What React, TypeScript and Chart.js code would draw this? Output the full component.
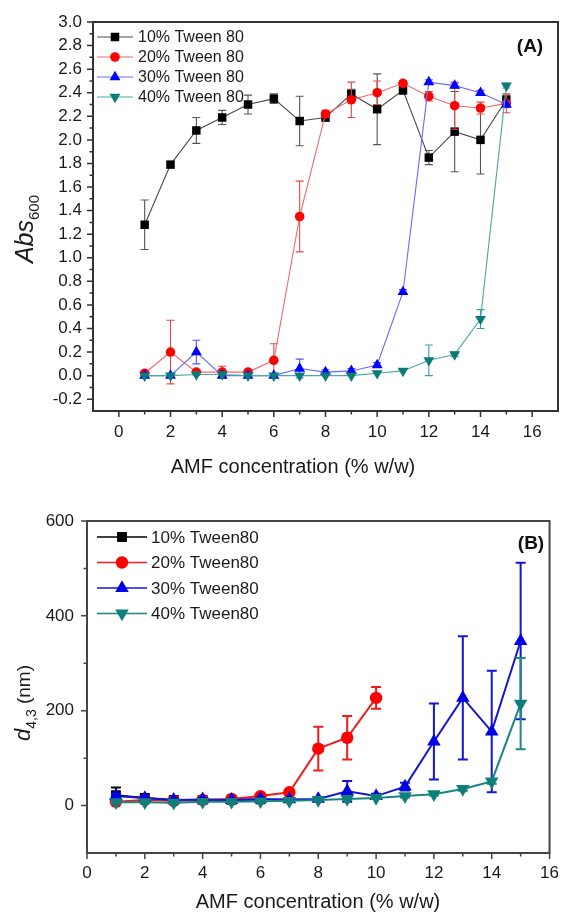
import React, { useEffect, useRef } from 'react';
import { Chart, registerables } from 'chart.js';

Chart.register(...registerables);

const FONT = '"Liberation Sans", Arial, Helvetica, sans-serif';

// ---------------- Panel A data (Abs600) ----------------
const A_X = [1, 2, 3, 4, 5, 6, 7, 8, 9, 10, 11, 12, 13, 14, 15];
const A_LABELS = ['10% Tween 80', '20% Tween 80', '30% Tween 80', '40% Tween 80'];
const A_Y10 = [1.28, 1.79, 2.08, 2.19, 2.30, 2.35, 2.16, 2.19, 2.39, 2.26, 2.42, 1.85, 2.07, 2.00, 2.34];
const A_E10 = [0.21, 0.02, 0.11, 0.06, 0.08, 0.04, 0.21, 0.03, 0.04, 0.30, 0.03, 0.06, 0.34, 0.29, 0.04];
const A_Y20 = [0.02, 0.20, 0.03, 0.03, 0.03, 0.13, 1.35, 2.22, 2.34, 2.40, 2.48, 2.37, 2.29, 2.27, 2.31];
const A_E20 = [0.02, 0.27, 0.02, 0.05, 0.02, 0.14, 0.30, 0.03, 0.15, 0.10, 0.02, 0.04, 0.20, 0.05, 0.08];
const A_Y30 = [0.00, 0.00, 0.20, 0.00, 0.00, 0.00, 0.06, 0.03, 0.04, 0.09, 0.71, 2.49, 2.46, 2.40, 2.30];
const A_E30 = [0.00, 0.00, 0.10, 0.00, 0.00, 0.00, 0.08, 0.02, 0.02, 0.02, 0.02, 0.02, 0.02, 0.02, 0.02];
const A_Y40 = [0.00, 0.00, 0.01, 0.01, 0.00, 0.00, 0.00, 0.00, 0.00, 0.02, 0.04, 0.13, 0.18, 0.48, 2.46];
const A_E40 = [0.00, 0.00, 0.00, 0.00, 0.00, 0.00, 0.00, 0.00, 0.00, 0.00, 0.00, 0.13, 0.02, 0.08, 0.02];
const A_X_MAJOR = [0, 2, 4, 6, 8, 10, 12, 14, 16];
const A_X_MINOR = [1, 3, 5, 7, 9, 11, 13, 15];
const A_Y_MAJOR = [-0.2, 0, 0.2, 0.4, 0.6, 0.8, 1.0, 1.2, 1.4, 1.6, 1.8, 2.0, 2.2, 2.4, 2.6, 2.8, 3.0];
const A_Y_MINOR = [-0.1, 0.1, 0.3, 0.5, 0.7, 0.9, 1.1, 1.3, 1.5, 1.7, 1.9, 2.1, 2.3, 2.5, 2.7, 2.9];

// ---------------- Panel B data (d4,3) ----------------
const B_LABELS = ['10% Tween80', '20% Tween80', '30% Tween80', '40% Tween80'];
const B_X10 = [1, 2, 3, 4, 5, 6];
const B_Y10 = [22, 16, 12, 12, 12, 13];
const B_E10 = [16, 4, 3, 3, 2, 2];
const B_X20 = [1, 2, 3, 4, 5, 6, 7, 8, 9, 10];
const B_Y20 = [8, 12, 10, 12, 14, 20, 28, 120, 143, 227];
const B_E20 = [3, 3, 2, 2, 2, 3, 4, 46, 46, 23];
const B_X30 = [1, 2, 3, 4, 5, 6, 7, 8, 9, 10, 11, 12, 13, 14, 15];
const B_Y30 = [20, 16, 12, 13, 12, 14, 13, 14, 30, 20, 40, 135, 227, 156, 347];
const B_E30 = [5, 3, 3, 3, 2, 3, 3, 3, 22, 5, 8, 80, 130, 128, 165];
const B_X40 = [1, 2, 3, 4, 5, 6, 7, 8, 9, 10, 11, 12, 13, 14, 15];
const B_Y40 = [7, 7, 6, 8, 8, 9, 10, 12, 14, 16, 20, 24, 35, 51, 215];
const B_E40 = [2, 2, 2, 2, 2, 2, 2, 2, 2, 2, 3, 3, 4, 5, 96];
const B_X_MAJOR = [0, 2, 4, 6, 8, 10, 12, 14, 16];
const B_X_MINOR = [1, 3, 5, 7, 9, 11, 13, 15];
const B_Y_MAJOR = [0, 200, 400, 600];
const B_Y_MINOR = [100, 300, 500];

type Series = {
  label: string; x: number[]; y: number[]; e: number[];
  marker: string; line: string; err: string;
  style: string; rot: number; r: number;
};

type Spec = {
  width: number; height: number;
  plot: { left: number; top: number; right: number; bottom: number };
  xMin: number; xMax: number; yMin: number; yMax: number;
  xMajor: number[]; xMinor: number[]; yMajor: number[]; yMinor: number[];
  yFmt: (v: number) => string;
  series: Series[];
  lineWidth: number; errWidth: number; cap: number;
  tickFont: number; xPad: number; yPad: number;
  frameColor: string; frameWidth: number;
  xTitle: { text: string; x: number; y: number; size: number };
  yTitle: { parts: { text: string; font: string; dy: number }[]; x: number; y: number };
  tag: { text: string; x: number; y: number; size: number };
  legend: { y0: number; dy: number; l0: number; l1: number; m: number; t: number; size: number; lw: number; markerScale: number };
};

function mk(label: string, x: number[], y: number[], e: number[], marker: string, line: string, err: string, style: string, rot: number, r: number): Series {
  return { label, x, y, e, marker, line, err, style, rot, r };
}

const SPEC_A: Spec = {
  width: 569, height: 485,
  plot: { left: 93, top: 22, right: 558, bottom: 411 },
  xMin: -1, xMax: 17, yMin: -0.3, yMax: 3.0,
  xMajor: A_X_MAJOR, xMinor: A_X_MINOR, yMajor: A_Y_MAJOR, yMinor: A_Y_MINOR,
  yFmt: (v) => v.toFixed(1),
  series: [
    mk(A_LABELS[0], A_X, A_Y10, A_E10, '#000000', '#4a4a4a', '#555555', 'rect', 0, 6),
    mk(A_LABELS[1], A_X, A_Y20, A_E20, '#ff0000', '#f06a6a', '#e84848', 'circle', 0, 4.8),
    mk(A_LABELS[2], A_X, A_Y30, A_E30, '#0000ff', '#6a6aff', '#5555ff', 'triangle', 0, 6.3),
    mk(A_LABELS[3], A_X, A_Y40, A_E40, '#0b7b78', '#4aa8a6', '#3f9e9b', 'triangle', 180, 6.3),
  ],
  lineWidth: 1.1, errWidth: 1.1, cap: 4,
  tickFont: 17, xPad: 11, yPad: 11,
  frameColor: '#333333', frameWidth: 2,
  xTitle: { text: 'AMF concentration (% w/w)', x: 293, y: 467, size: 20 },
  yTitle: {
    parts: [
      { text: 'Abs', font: `italic 25px ${FONT}`, dy: 0 },
      { text: '600', font: `15px ${FONT}`, dy: 6 },
    ],
    x: 33, y: 229,
  },
  tag: { text: '(A)', x: 530, y: 47, size: 19 },
  legend: { y0: 37, dy: 20, l0: 97, l1: 133, m: 115, t: 138, size: 16, lw: 1.1, markerScale: 1 },
};

const SPEC_B: Spec = {
  width: 569, height: 429,
  plot: { left: 87, top: 36, right: 558, bottom: 368 },
  xMin: 0, xMax: 16, yMin: -100, yMax: 600,
  xMajor: B_X_MAJOR, xMinor: B_X_MINOR, yMajor: B_Y_MAJOR, yMinor: B_Y_MINOR,
  yFmt: (v) => String(Math.round(v)),
  series: [
    mk(B_LABELS[0], B_X10, B_Y10, B_E10, '#000000', '#000000', '#000000', 'rect', 0, 7),
    mk(B_LABELS[1], B_X20, B_Y20, B_E20, '#ff0000', '#ee1c1c', '#ee1c1c', 'circle', 0, 6.2),
    mk(B_LABELS[2], B_X30, B_Y30, B_E30, '#0000e6', '#1414d6', '#1414d6', 'triangle', 0, 7.8),
    mk(B_LABELS[3], B_X40, B_Y40, B_E40, '#0f7f7a', '#178580', '#1f8a85', 'triangle', 180, 7.8),
  ],
  lineWidth: 2, errWidth: 2, cap: 5,
  tickFont: 17, xPad: 10, yPad: 13,
  frameColor: '#444444', frameWidth: 2,
  xTitle: { text: 'AMF concentration (% w/w)', x: 318, y: 417, size: 20 },
  yTitle: {
    parts: [
      { text: 'd', font: `italic 22px ${FONT}`, dy: 0 },
      { text: '4,3', font: `14px ${FONT}`, dy: 6 },
      { text: ' (nm)', font: `19px ${FONT}`, dy: 0 },
    ],
    x: 30, y: 218,
  },
  tag: { text: '(B)', x: 531, y: 59, size: 19 },
  legend: { y0: 52, dy: 25.5, l0: 97, l1: 147, m: 122, t: 151, size: 17, lw: 1.6, markerScale: 1 },
};

function drawMarker(ctx: CanvasRenderingContext2D, style: string, x: number, y: number, r: number, rot: number, color: string) {
  ctx.save();
  ctx.fillStyle = color;
  ctx.beginPath();
  if (style === 'rect') {
    const s = Math.SQRT1_2 * r;
    ctx.rect(x - s, y - s, 2 * s, 2 * s);
  } else if (style === 'circle') {
    ctx.arc(x, y, r, 0, Math.PI * 2);
  } else {
    let rad = (rot * Math.PI) / 180;
    ctx.moveTo(x + Math.sin(rad) * r, y - Math.cos(rad) * r);
    rad += (2 * Math.PI) / 3;
    ctx.lineTo(x + Math.sin(rad) * r, y - Math.cos(rad) * r);
    rad += (2 * Math.PI) / 3;
    ctx.lineTo(x + Math.sin(rad) * r, y - Math.cos(rad) * r);
    ctx.closePath();
  }
  ctx.fill();
  ctx.restore();
}

function near(list: number[], v: number) {
  return list.some((m) => Math.abs(m - v) < 1e-6);
}

function buildChart(canvas: HTMLCanvasElement, spec: Spec) {
  const deco = {
    id: 'deco',
    beforeDatasetDraw(chart: any, args: any) {
      const s = spec.series[args.index];
      if (!s) return;
      const ctx: CanvasRenderingContext2D = chart.ctx;
      const xs = chart.scales.x;
      const ys = chart.scales.y;
      ctx.save();
      ctx.strokeStyle = s.err;
      ctx.lineWidth = spec.errWidth;
      for (let j = 0; j < s.x.length; j++) {
        const e = s.e[j];
        if (!e) continue;
        const px = xs.getPixelForValue(s.x[j]);
        const y1 = ys.getPixelForValue(s.y[j] + e);
        const y2 = ys.getPixelForValue(s.y[j] - e);
        ctx.beginPath();
        ctx.moveTo(px, y1);
        ctx.lineTo(px, y2);
        ctx.moveTo(px - spec.cap, y1);
        ctx.lineTo(px + spec.cap, y1);
        ctx.moveTo(px - spec.cap, y2);
        ctx.lineTo(px + spec.cap, y2);
        ctx.stroke();
      }
      ctx.restore();
    },
    afterDraw(chart: any) {
      const ctx: CanvasRenderingContext2D = chart.ctx;
      const a = chart.chartArea;
      const xs = chart.scales.x;
      const ys = chart.scales.y;
      ctx.save();
      // frame
      ctx.strokeStyle = spec.frameColor;
      ctx.lineWidth = spec.frameWidth;
      ctx.strokeRect(a.left, a.top, a.right - a.left, a.bottom - a.top);
      // tick marks
      ctx.lineWidth = 1.5;
      ctx.beginPath();
      for (const v of spec.xMajor.concat(spec.xMinor)) {
        const px = xs.getPixelForValue(v);
        const len = near(spec.xMajor, v) ? 6 : 3.5;
        ctx.moveTo(px, a.bottom);
        ctx.lineTo(px, a.bottom + len);
      }
      for (const v of spec.yMajor.concat(spec.yMinor)) {
        const py = ys.getPixelForValue(v);
        const len = near(spec.yMajor, v) ? 6 : 3.5;
        ctx.moveTo(a.left, py);
        ctx.lineTo(a.left - len, py);
      }
      ctx.stroke();

      // x title
      ctx.fillStyle = '#1a1a1a';
      ctx.font = `${spec.xTitle.size}px ${FONT}`;
      ctx.textAlign = 'center';
      ctx.textBaseline = 'middle';
      ctx.fillText(spec.xTitle.text, spec.xTitle.x, spec.xTitle.y);

      // y title (rotated, with subscript)
      ctx.textAlign = 'left';
      ctx.textBaseline = 'alphabetic';
      let total = 0;
      const widths: number[] = [];
      for (const p of spec.yTitle.parts) {
        ctx.font = p.font;
        const w = ctx.measureText(p.text).width;
        widths.push(w);
        total += w;
      }
      ctx.save();
      ctx.translate(spec.yTitle.x, spec.yTitle.y);
      ctx.rotate(-Math.PI / 2);
      let cx = -total / 2;
      spec.yTitle.parts.forEach((p, i) => {
        ctx.font = p.font;
        ctx.fillText(p.text, cx, p.dy);
        cx += widths[i];
      });
      ctx.restore();

      // panel tag
      ctx.font = `bold ${spec.tag.size}px ${FONT}`;
      ctx.textAlign = 'center';
      ctx.textBaseline = 'middle';
      ctx.fillStyle = '#111';
      ctx.fillText(spec.tag.text, spec.tag.x, spec.tag.y);

      // legend
      const L = spec.legend;
      spec.series.forEach((s, k) => {
        const y = L.y0 + k * L.dy;
        ctx.strokeStyle = s.line;
        ctx.lineWidth = L.lw;
        ctx.beginPath();
        ctx.moveTo(L.l0, y);
        ctx.lineTo(L.l1, y);
        ctx.stroke();
        drawMarker(ctx, s.style, L.m, y, s.r * L.markerScale, s.rot, s.marker);
        ctx.fillStyle = '#1a1a1a';
        ctx.font = `${L.size}px ${FONT}`;
        ctx.textAlign = 'left';
        ctx.textBaseline = 'middle';
        ctx.fillText(s.label, L.t, y + 1);
      });
      ctx.restore();
    },
  };

  const tickFont = { family: FONT, size: spec.tickFont };
  const n = spec.series.length;

  return new Chart(canvas, {
    type: 'line',
    data: {
      datasets: spec.series.map((s, i) => ({
        label: s.label,
        data: s.x.map((x, j) => ({ x, y: s.y[j] })),
        borderColor: s.line,
        borderWidth: spec.lineWidth,
        backgroundColor: s.marker,
        pointBackgroundColor: s.marker,
        pointBorderColor: s.marker,
        pointBorderWidth: 0,
        pointStyle: s.style as any,
        pointRotation: s.rot,
        pointRadius: s.r,
        pointHoverRadius: s.r,
        tension: 0,
        fill: false,
        order: n - i,
      })),
    },
    options: {
      responsive: false,
      animation: false,
      events: [],
      layout: {
        padding: {
          left: 0,
          top: spec.plot.top,
          right: spec.width - spec.plot.right,
          bottom: 0,
        },
      },
      plugins: { legend: { display: false }, tooltip: { enabled: false }, title: { display: false } },
      scales: {
        x: {
          type: 'linear',
          min: spec.xMin,
          max: spec.xMax,
          afterBuildTicks: (sc: any) => {
            sc.ticks = spec.xMajor.concat(spec.xMinor).sort((p, q) => p - q).map((v) => ({ value: v }));
          },
          afterFit: (sc: any) => {
            sc.height = spec.height - spec.plot.bottom;
          },
          ticks: {
            autoSkip: false,
            maxRotation: 0,
            padding: spec.xPad,
            color: '#1a1a1a',
            font: tickFont,
            callback: (v: any) => (near(spec.xMajor, Number(v)) ? String(Math.round(Number(v))) : ''),
          },
          grid: { display: false, drawTicks: false },
          border: { display: false },
        },
        y: {
          type: 'linear',
          min: spec.yMin,
          max: spec.yMax,
          afterBuildTicks: (sc: any) => {
            sc.ticks = spec.yMajor.concat(spec.yMinor).sort((p, q) => p - q).map((v) => ({ value: v }));
          },
          afterFit: (sc: any) => {
            sc.width = spec.plot.left;
          },
          ticks: {
            autoSkip: false,
            padding: spec.yPad,
            color: '#1a1a1a',
            font: tickFont,
            callback: (v: any) => (near(spec.yMajor, Number(v)) ? spec.yFmt(Number(v)) : ''),
          },
          grid: { display: false, drawTicks: false },
          border: { display: false },
        },
      },
    } as any,
    plugins: [deco],
  });
}

export default function App() {
  const aRef = useRef<HTMLCanvasElement>(null);
  const bRef = useRef<HTMLCanvasElement>(null);
  useEffect(() => {
    const a = buildChart(aRef.current as HTMLCanvasElement, SPEC_A);
    const b = buildChart(bRef.current as HTMLCanvasElement, SPEC_B);
    return () => {
      a.destroy();
      b.destroy();
    };
  }, []);
  return (
    <div style={{ position: 'absolute', left: 0, top: 0, width: 569, height: 914, background: '#fff' }}>
      <canvas ref={aRef} width={569} height={485} style={{ position: 'absolute', left: 0, top: 0 }} />
      <canvas ref={bRef} width={569} height={429} style={{ position: 'absolute', left: 0, top: 485 }} />
    </div>
  );
}
